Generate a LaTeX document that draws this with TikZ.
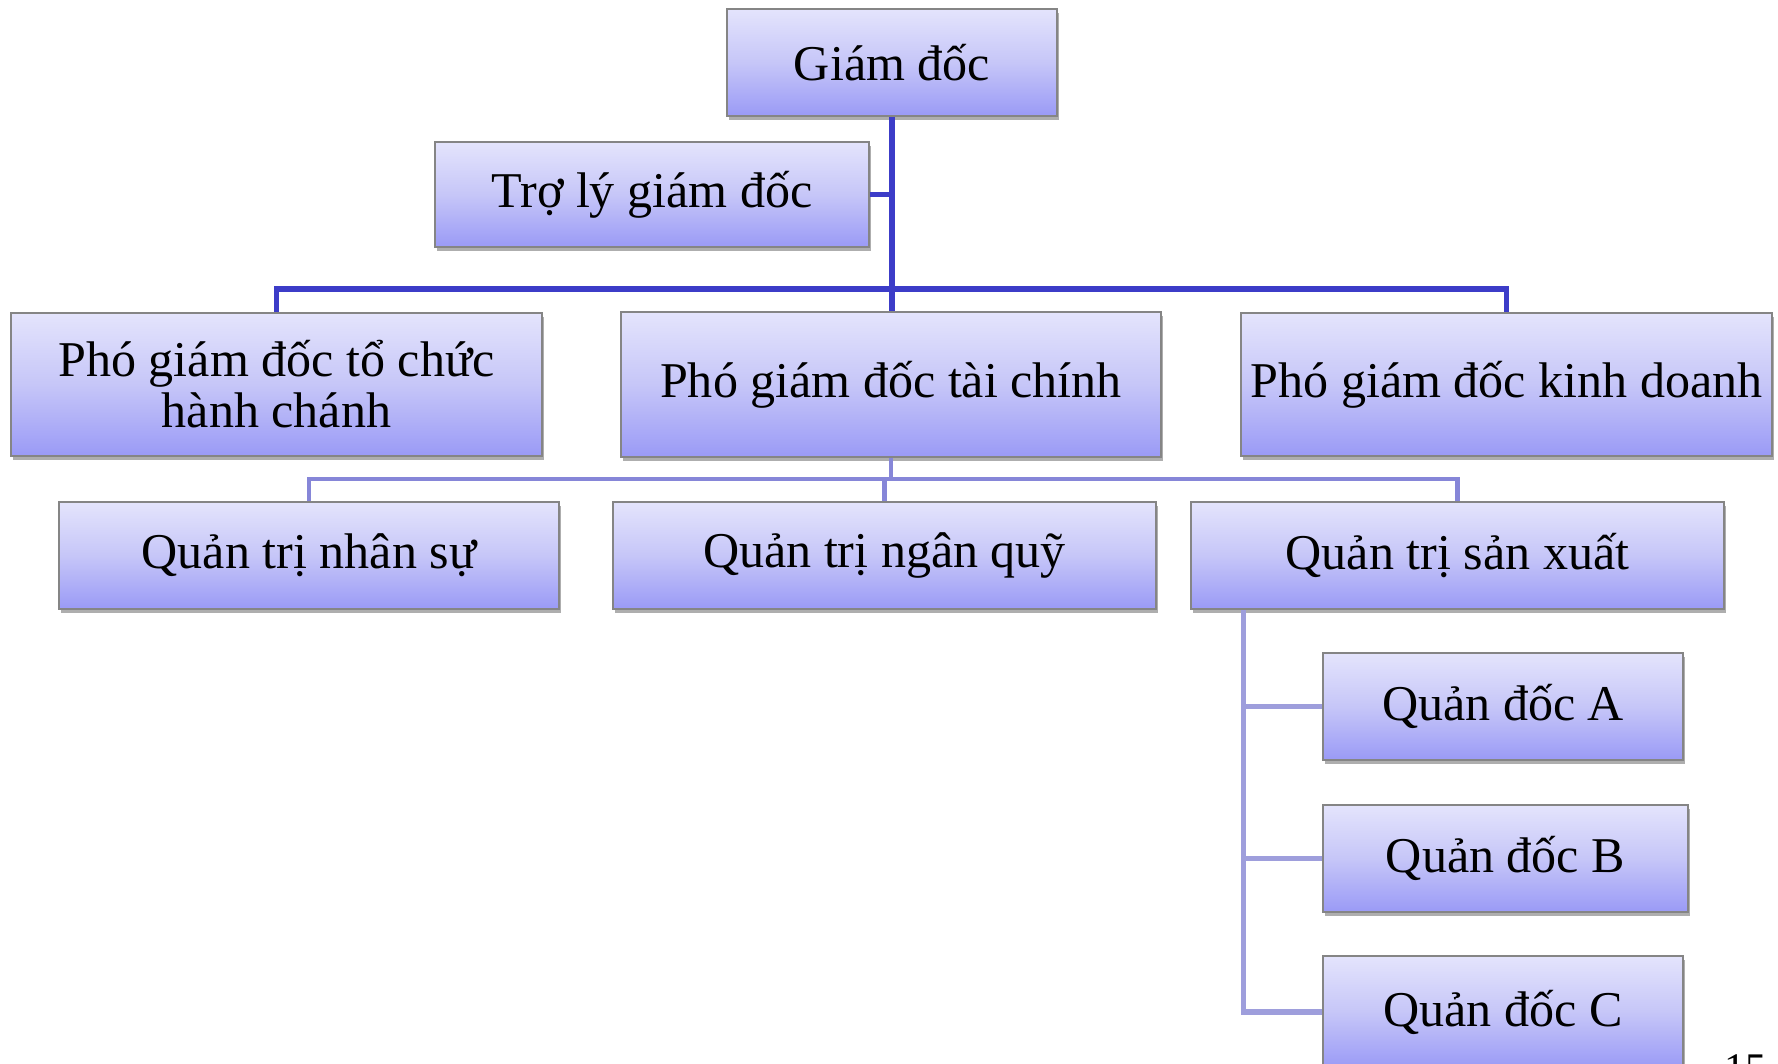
\documentclass[tikz,border=0pt]{standalone}
\usepackage{fontspec}
\setmainfont{Liberation Serif}
\usetikzlibrary{shadows}
\definecolor{boxtop}{HTML}{E4E4FC}
\definecolor{boxmid}{HTML}{C6C6F8}
\definecolor{boxbot}{HTML}{9A9AF6}
\definecolor{boxline}{HTML}{858585}
\definecolor{linkA}{HTML}{3C3CC8}
\definecolor{linkB}{HTML}{8686D8}
\definecolor{linkC}{HTML}{9E9EDC}
\tikzset{
  unitbox/.style 2 args={draw=boxline, line width=0.9pt, inner sep=0pt,
    top color=boxtop, bottom color=boxbot, middle color=boxmid,
    minimum width=#1*0.02cm, minimum height=#2*0.02cm,
    align=center, font=\fontsize{28.5}{29}\selectfont,
    drop shadow={shadow xshift=1.2pt, shadow yshift=-2pt, opacity=0.45, fill=black!70}},
  linkone/.style={draw=linkA, line width=2.9pt},
  linktwo/.style={draw=linkB, line width=2.8pt},
  linkthree/.style={draw=linkC, line width=3pt},
}
\begin{document}
\begin{tikzpicture}[x=0.02cm, y=-0.02cm]
\useasboundingbox (0,0) rectangle (1778,1063);

% director and assistant
\node[unitbox={330}{107}] (gd) at (892,62.5) {Giám đốc};
\node[unitbox={434}{105}] (tl) at (652,194.5) {Trợ lý giám đốc};

% deputy directors
\node[unitbox={531}{143}] (hc) at (276.5,384.5) {Phó giám đốc tổ chức\\hành chánh};
\node[unitbox={540}{145}] (tc) at (891,384.5) {Phó giám đốc tài chính};
\node[unitbox={531}{143}] (kd) at (1506.5,384.5) {Phó giám đốc kinh doanh};

% managers
\node[unitbox={500}{107}] (ns) at (309,555.5) {Quản trị nhân sự};
\node[unitbox={543}{107}] (nq) at (884.5,555.5) {Quản trị ngân quỹ};
\node[unitbox={533}{107}] (sx) at (1457.5,555.5) {Quản trị sản xuất};

% foremen
\node[unitbox={360}{107}] (qa) at (1503,706.5) {Quản đốc A};
\node[unitbox={365}{107}] (qb) at (1505.5,858.5) {Quản đốc B};
\node[unitbox={360}{112}] (qc) at (1503,1012) {Quản đốc C};

% slide number
\node[anchor=north west, inner sep=0pt, font=\fontsize{24}{24}\selectfont] (pg) at (1724,1054) {15};

% connectors: top level
\coordinate (trunk) at (gd.south |- 0,289);
\draw[linkone] (gd.south) -- (gd.south |- tc.north);
\draw[linkone] (tl.east) -- (tl.east -| gd.south);
\draw[linkone] (hc.north) |- (trunk) -| (kd.north);

% connectors: finance branch
\coordinate (fin) at (tc.south |- 0,479);
\draw[linktwo] (tc.south) -- (fin);
\draw[linktwo] (ns.north) |- (fin) -| (sx.north);
\draw[linktwo] (nq.north) -- (nq.north |- fin);

% connectors: production branch
\coordinate (sxd) at ([xshift=1.06cm]sx.south west);
\draw[linkthree] (sxd) |- (qc.west);
\draw[linkthree] (sxd |- qa.west) -- (qa.west);
\draw[linkthree] (sxd |- qb.west) -- (qb.west);
\end{tikzpicture}
\end{document}
